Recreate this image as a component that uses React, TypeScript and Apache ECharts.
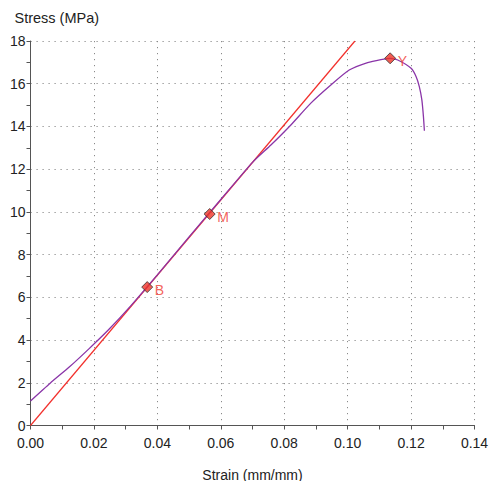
import React, { useEffect, useRef } from "react";
import * as echarts from "echarts";

// Measured stress–strain curve (strain mm/mm, stress MPa)
const curveStrain = [
  0, 0.0062, 0.0124, 0.0185, 0.0246, 0.0316, 0.04, 0.05, 0.06, 0.07, 0.0758,
  0.0821, 0.0884, 0.0947, 0.1005, 0.1063, 0.1105, 0.1134, 0.1158, 0.12,
  0.1216, 0.1226, 0.1234, 0.1239, 0.1242,
];
const curveStress = [
  1.15, 1.98, 2.76, 3.6, 4.48, 5.6, 7.05, 8.83, 10.58, 12.32, 13.13, 14.07,
  15.09, 15.94, 16.64, 16.99, 17.13, 17.19, 17.11, 16.72, 16.33, 15.86, 15.24,
  14.46, 13.8,
];

// Fitted modulus line
const fitStrain = [0, 0.1023];
const fitStress = [0, 18];

// Marked points
const pointNames = ["B", "M", "Y"];
const pointStrain = [0.0368, 0.0565, 0.1134];
const pointStress = [6.48, 9.9, 17.19];

const FONT = "Liberation Sans, Arial, Helvetica, sans-serif";

export default function App() {
  const ref = useRef<HTMLDivElement>(null);

  useEffect(() => {
    if (!ref.current) return;
    const chart = echarts.init(ref.current, null, { renderer: "svg" });
    const gridLine = {
      show: true,
      lineStyle: { color: "#8a8a8a", width: 1, type: [1.2, 4.8] as any },
    };
    const tickStyle = { color: "#555", width: 1 };
    chart.setOption({
      animation: false,
      backgroundColor: "#ffffff",
      grid: {
        left: 30.5,
        right: 20.5,
        top: 41,
        bottom: 55.5,
        containLabel: false,
        outerBoundsMode: "none",
      },
      xAxis: {
        type: "value",
        min: 0,
        max: 0.14,
        interval: 0.02,
        name: "Strain (mm/mm)",
        nameLocation: "middle",
        nameGap: 42,
        nameTextStyle: { color: "#222", fontSize: 14, fontFamily: FONT },
        axisLine: { show: true, lineStyle: tickStyle },
        axisTick: { show: true, length: 4, lineStyle: tickStyle },
        minorTick: { show: true, splitNumber: 2, length: 4, lineStyle: tickStyle },
        axisLabel: {
          color: "#222",
          fontSize: 14,
          fontFamily: FONT,
          margin: 10,
          formatter: (v: number) => v.toFixed(2),
        },
        splitLine: gridLine,
      },
      yAxis: {
        type: "value",
        min: 0,
        max: 18,
        interval: 2,
        name: "Stress (MPa)",
        nameLocation: "end",
        nameGap: 23,
        nameTextStyle: {
          color: "#222",
          fontSize: 14.5,
          fontFamily: FONT,
          align: "left",
          verticalAlign: "middle",
          padding: [0, 0, 0, -16],
        },
        axisLine: { show: true, lineStyle: tickStyle },
        axisTick: { show: true, length: 4, lineStyle: tickStyle },
        minorTick: { show: true, splitNumber: 2, length: 4, lineStyle: tickStyle },
        axisLabel: { color: "#222", fontSize: 14, fontFamily: FONT, margin: 5 },
        splitLine: gridLine,
      },
      series: [
        {
          type: "line",
          data: fitStrain.map((x, i) => [x, fitStress[i]]),
          showSymbol: false,
          lineStyle: { color: "#f2302c", width: 1.2 },
          z: 2,
        },
        {
          type: "line",
          data: curveStrain.map((x, i) => [x, curveStress[i]]),
          showSymbol: false,
          smooth: 0.2,
          lineStyle: { color: "#8a35a8", width: 1.3 },
          z: 3,
        },
        {
          type: "scatter",
          data: pointStrain.map((x, i) => ({ value: [x, pointStress[i]], name: pointNames[i] })),
          symbol: "diamond",
          symbolSize: [11, 11],
          itemStyle: { color: "#ee3327", borderColor: "#333", borderWidth: 1 },
          label: {
            show: true,
            position: "right",
            distance: 1.5,
            formatter: (p: any) => p.name,
            color: "#f03a30",
            fontSize: 14,
            fontFamily: FONT,
            offset: [0, 3],
          },
          z: 5,
        },
      ],
    });
    return () => chart.dispose();
  }, []);

  return <div ref={ref} style={{ width: 495, height: 481, position: "absolute", left: 0, top: 0 }} />;
}
